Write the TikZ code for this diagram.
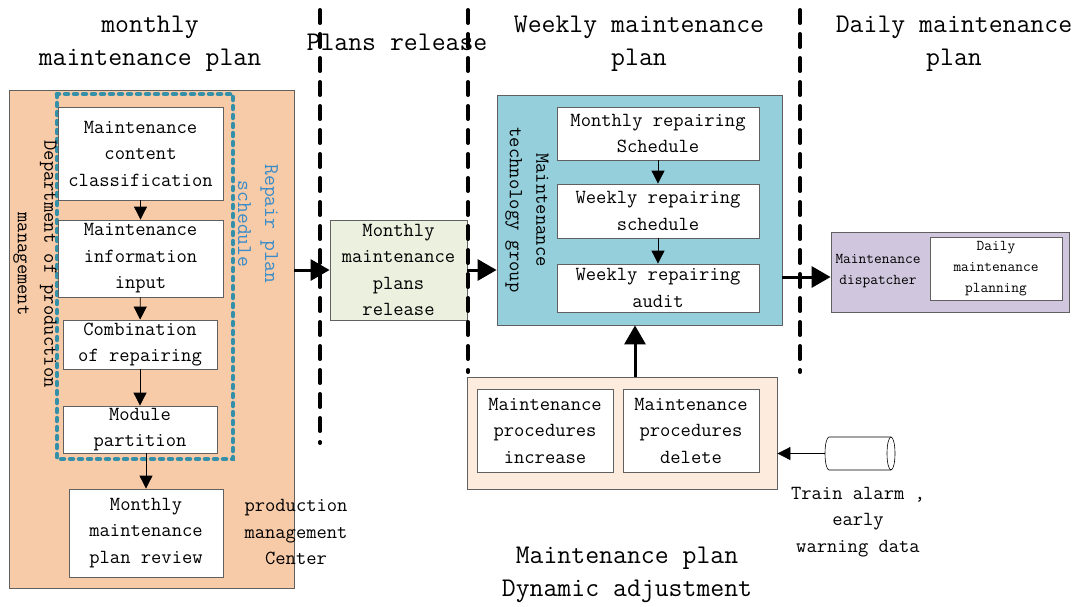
\documentclass[tikz,border=0pt]{standalone}
\usetikzlibrary{arrows.meta}
\definecolor{orangefill}{HTML}{F8CBA8}
\definecolor{tealdot}{HTML}{3390A8}
\definecolor{bluetxt}{HTML}{3A8CC8}
\definecolor{greenfill}{HTML}{EBF0DF}
\definecolor{bluefill}{HTML}{95CFDC}
\definecolor{purplefill}{HTML}{D0C6DE}
\definecolor{adjfill}{HTML}{FDEBDD}
\definecolor{boxgray}{HTML}{606060}
\begin{document}
\begin{tikzpicture}[x=1pt,y=-1pt,
  every node/.style={font=\ttfamily\fontsize{20}{26.5}\selectfont, align=center, inner sep=0pt},
  region/.style={draw=boxgray, line width=0.8pt},
  wbox/.style={draw=boxgray, line width=0.8pt, fill=white},
  headtxt/.style={font=\ttfamily\fontsize{27}{33}\selectfont},
  smalltxt/.style={font=\ttfamily\fontsize{15}{21}\selectfont},
  thinarrow/.style={draw=black, line width=0.8pt, -{Triangle[length=13pt,width=13pt]}},
  thickarrow/.style={draw=black, line width=3pt, -{Triangle[length=19pt,width=21pt]}},
  sepline/.style={draw=black, line width=4pt, line cap=round, dash pattern=on 13pt off 11pt},
  dotline/.style={draw=tealdot, line width=4.5pt, line cap=round, dash pattern=on 3pt off 6pt}
]
\useasboundingbox (0,0) rectangle (1079,606);

% headers
\node[headtxt] (h1) at (150,44) {monthly\\maintenance plan};
\node[headtxt] (h2) at (397,42) {Plans release};
\node[headtxt] (h3) at (639,44) {Weekly maintenance\\plan};
\node[headtxt] (h4) at (954,44) {Daily maintenance\\plan};

% left region
\node[region, fill=orangefill, minimum width=285pt, minimum height=498pt] (ob) at (151.5,339) {};
\draw[dotline] (57,94) rectangle (233,459);
\node[wbox, minimum width=165pt, minimum height=93pt] (c1) at (140.5,153.5) {Maintenance\\content\\classification};
\node[wbox, minimum width=165pt, minimum height=77pt] (c2) at (140.5,258.5) {Maintenance\\information\\input};
\node[wbox, minimum width=154pt, minimum height=49pt] (c3) at (140,344.5) {Combination\\of repairing};
\node[wbox, minimum width=154pt, minimum height=47pt] (c4) at (140,429.5) {Module\\partition};
\node[wbox, minimum width=154pt, minimum height=88pt] (c5) at (146,533) {Monthly\\maintenance\\plan review};
\node[rotate=-90] (dept) at (35,264) {Department of production\\management};
\node[rotate=-90, text=bluetxt, font=\ttfamily\fontsize{21}{27}\selectfont] (rps) at (258,224) {Repair plan\\schedule};
\node (pmc) at (296,532) {production\\management\\Center};
\draw[thinarrow] (c1) -- (c2);
\draw[thinarrow] (c2) -- (c3);
\draw[thinarrow] (c3) -- (c4);
\draw[thinarrow] (c5.north |- c4.south) -- (c5.north);

% plans release
\node[region, fill=greenfill, minimum width=137pt, minimum height=100pt] (rel) at (398.5,270) {Monthly\\maintenance\\plans\\release};

% weekly
\node[region, fill=bluefill, minimum width=285pt, minimum height=230pt] (blue) at (639.5,210) {};
\node[wbox, minimum width=202pt, minimum height=53pt] (w1) at (658,133.5) {Monthly repairing\\Schedule};
\node[wbox, minimum width=202pt, minimum height=54pt] (w2) at (658,211) {Weekly repairing\\schedule};
\node[wbox, minimum width=202pt, minimum height=48pt] (w3) at (658,288) {Weekly repairing\\audit};
\node[rotate=-90] (mtg) at (527,210) {Maintenance\\technology group};
\draw[thinarrow] (w1) -- (w2);
\draw[thinarrow] (w2) -- (w3);

% daily
\node[region, fill=purplefill, minimum width=238pt, minimum height=80pt] (purple) at (950,272) {};
\node[wbox, smalltxt, minimum width=132pt, minimum height=63pt] (dmp) at (996,268.5) {Daily\\maintenance\\planning};
\node[smalltxt] (disp) at (878,271) {Maintenance\\dispatcher};

% dynamic adjustment
\node[region, fill=adjfill, minimum width=310pt, minimum height=112pt] (adj) at (622,433) {};
\node[wbox, minimum width=136pt, minimum height=83pt] (inc) at (545,430.5) {Maintenance\\procedures\\increase};
\node[wbox, minimum width=136pt, minimum height=83pt] (del) at (691,430.5) {Maintenance\\procedures\\delete};
\node[headtxt] (dyn) at (627,575) {Maintenance plan\\Dynamic adjustment};

% data store (cylinder)
\node[minimum width=70pt, minimum height=33pt] (cyl) at (860,453.5) {};
\draw[line width=0.6pt, fill=white] (891,437) -- (829,437) arc[start angle=-90, end angle=-270, x radius=4, y radius=16.5] -- (891,470);
\draw[line width=0.6pt, fill=white] (891,453.5) ellipse [x radius=4, y radius=16.5];
\node (train) at (858,522) {Train alarm ,\\early\\warning data};

% connectors
\draw[thickarrow] (rel.west -| ob.east) -- (rel.west);
\draw[thickarrow] (rel.east) -- (rel.east -| blue.west);
\draw[thickarrow] ([yshift=-67pt]blue.east) -- ([yshift=-67pt]blue.east -| purple.west);
\draw[thickarrow] ([xshift=13pt]adj.north) -- ([xshift=13pt]adj.north |- blue.south);
\draw[thinarrow] (cyl.west) -- (cyl.west -| adj.east);

% separators
\draw[sepline] (320,10) -- (320,443);
\draw[sepline] (468,10) -- (468,372);
\draw[sepline] (800,10) -- (800,372);
\end{tikzpicture}
\end{document}
